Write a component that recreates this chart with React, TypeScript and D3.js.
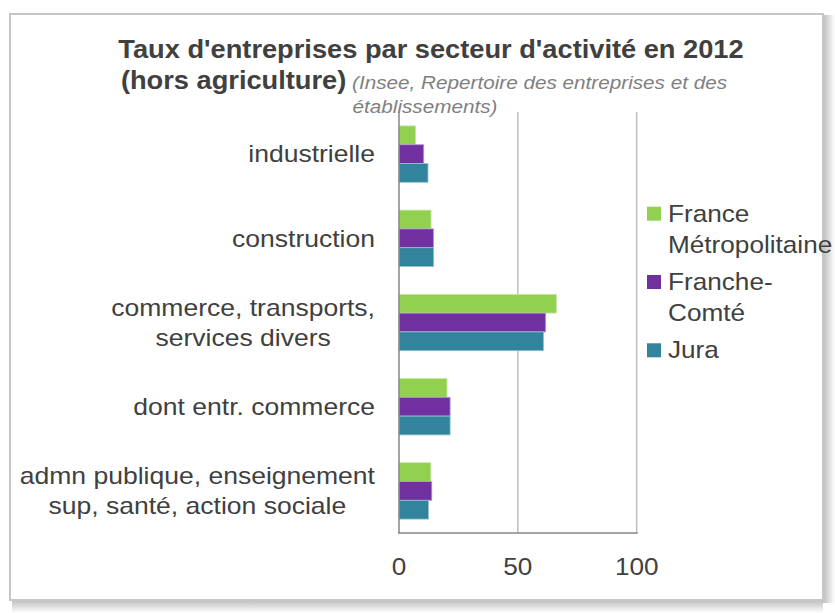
import React from "react";
import * as d3 from "d3";

const categories = [
  "industrielle",
  "construction",
  "commerce, transports, services divers",
  "dont entr. commerce",
  "admn publique, enseignement sup, santé, action sociale",
];
const categoryLines = [
  ["industrielle"],
  ["construction"],
  ["commerce, transports,", "services divers"],
  ["dont entr. commerce"],
  ["admn publique, enseignement", "sup, santé, action sociale"],
];
const seriesNames = ["France Métropolitaine", "Franche-Comté", "Jura"];
const legendLines = [["France", "Métropolitaine"], ["Franche-", "Comté"], ["Jura"]];
const franceValues = [7, 13.5, 66.2, 20.2, 13.4];
const francheComteValues = [10.4, 14.5, 61.7, 21.5, 13.8];
const juraValues = [12.2, 14.6, 60.8, 21.5, 12.4];
const tickValues = [0, 50, 100];
const colors = ["#92D050", "#7030A0", "#31849B"];
const edgeColors = ["#c8eaa8", "#b89ad0", "#98c2cd"];

const FONT = "'Liberation Sans', Arial, sans-serif";
const SX = 1.09;
const SXL = 1.105;
const TEXT = "#404040";

function measure(text: string, font: string): number {
  const c = document.createElement("canvas");
  const ctx = c.getContext("2d");
  if (!ctx) return text.length * 12;
  ctx.font = font;
  return ctx.measureText(text).width;
}

function ST({ x, y, anchor = "start", size, weight = "normal", style = "normal", fill = TEXT, sx = SX, children }: any) {
  return (
    <text
      transform={`translate(${x},${y}) scale(${sx},1)`}
      textAnchor={anchor}
      fontSize={size}
      fontWeight={weight}
      fontStyle={style}
      fill={fill}
      fontFamily={FONT}
    >
      {children}
    </text>
  );
}

export default function App() {
  const W = 835;
  const H = 613;
  const x = d3.scaleLinear().domain([0, 100]).range([399, 636.7]);
  const y = d3
    .scaleBand<string>()
    .domain(categories)
    .range([112, 533])
    .paddingInner(0.33)
    .paddingOuter(0.165);
  const values = [franceValues, francheComteValues, juraValues];
  const ySub = d3
    .scaleBand<string>()
    .domain(seriesNames)
    .range([0, y.bandwidth()]);

  const labelFont = `24px ${FONT}`;

  return (
    <svg
      width={W}
      height={H}
      style={{ position: "absolute", left: 0, top: 0, background: "#fff" }}
    >
      <defs>
        <linearGradient id="shR" x1="0" x2="1" y1="0" y2="0">
          <stop offset="0" stopColor="#888" stopOpacity="0.55" />
          <stop offset="1" stopColor="#888" stopOpacity="0" />
        </linearGradient>
        <linearGradient id="shB" x1="0" x2="0" y1="0" y2="1">
          <stop offset="0" stopColor="#888" stopOpacity="0.55" />
          <stop offset="1" stopColor="#888" stopOpacity="0" />
        </linearGradient>
      </defs>
      {/* frame shadow */}
      <rect x={823} y={15} width={12} height={588} fill="url(#shR)" />
      <rect x={12} y={600} width={811} height={13} fill="url(#shB)" />
      <rect x={10} y={14} width={813} height={586} fill="#fff" stroke="#c6c6c6" strokeWidth={2} />

      {/* title */}
      <ST x={431} y={58} anchor="middle" size={25} weight="bold">
        Taux d'entreprises par secteur d'activité en 2012
      </ST>
      <ST x={424} y={89} anchor="middle" size={25} weight="bold">
        <tspan>(hors agriculture)</tspan>
        <tspan fontSize={19} fontWeight="normal" fontStyle="italic" fill="#808080">
          {" (Insee, Repertoire des entreprises et des"}
        </tspan>
      </ST>
      <ST x={425} y={113} anchor="middle" size={19} style="italic" fill="#808080">
        établissements)
      </ST>

      {/* gridlines */}
      {tickValues
        .filter((t) => t > 0)
        .map((t) => (
          <line key={t} x1={x(t)} x2={x(t)} y1={112} y2={533} stroke="#bfbfbf" strokeWidth={1.5} />
        ))}

      {/* bars */}
      {categories.map((c, ci) => (
        <g key={c} transform={`translate(0,${y(c)})`}>
          {seriesNames.map((s, si) => (
            <rect
              key={s}
              x={x(0)}
              y={ySub(s)}
              width={x(values[si][ci]) - x(0)}
              height={ySub.bandwidth()}
              fill={colors[si]}
              stroke={edgeColors[si]}
              strokeWidth={0.8}
            />
          ))}
        </g>
      ))}

      {/* axes */}
      <line x1={x(0)} x2={x(0)} y1={112} y2={533} stroke="#868686" strokeWidth={1.5} />
      <line x1={x(0) - 1} x2={x(100) + 1} y1={533} y2={533} stroke="#868686" strokeWidth={1.5} />

      {tickValues.map((t) => (
        <ST key={t} x={x(t)} y={575} anchor="middle" size={24}>
          {String(t)}
        </ST>
      ))}

      {/* category labels */}
      {categories.map((c, ci) => {
        const lines = categoryLines[ci];
        const maxW = Math.max(...lines.map((l) => measure(l, labelFont) * SXL));
        const cx = 375 - maxW / 2;
        const center = (y(c) as number) + y.bandwidth() / 2;
        return (
          <g key={c}>
            {lines.map((l, li) => (
              <ST
                key={li}
                x={lines.length > 1 ? cx : 375}
                y={center + 8.2 + (li - (lines.length - 1) / 2) * 30.3}
                anchor={lines.length > 1 ? "middle" : "end"}
                size={24}
                sx={SXL}
              >
                {l}
              </ST>
            ))}
          </g>
        );
      })}

      {/* legend */}
      {(() => {
        let base = 221.7;
        return legendLines.map((lines, i) => {
          const b = base;
          base += lines.length * 31 + 6.3;
          return (
            <g key={i}>
              <rect x={647} y={b - 15} width={14} height={14} fill={colors[i]} />
              {lines.map((l, li) => (
                <ST key={li} x={668} y={b + li * 31} size={24}>
                  {l}
                </ST>
              ))}
            </g>
          );
        });
      })()}
    </svg>
  );
}
